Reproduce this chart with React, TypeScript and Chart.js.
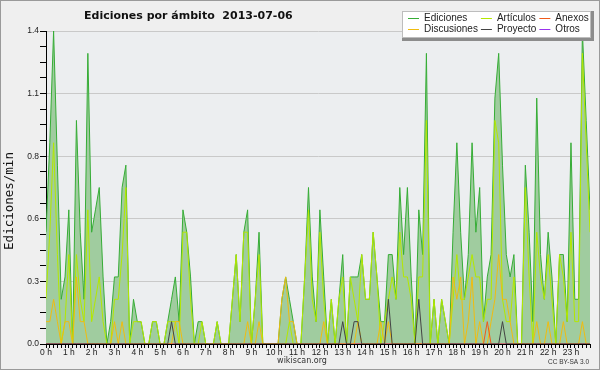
import React, { useEffect, useRef } from 'react';
import { Chart, registerables } from 'chart.js';

Chart.register(...registerables);

const chartTitle = 'Ediciones por ámbito  2013-07-06';
const yAxisTitle = 'Ediciones/min';
const footerLeft = 'wikiscan.org';
const footerRight = 'CC BY-SA 3.0';

// 10-minute slots of the day (minutes since 00:00)
const slotMinutes: number[] = Array.from({ length: 144 }, (_, i) => i * 10);

const hourLabels = ['0 h', '1 h', '2 h', '3 h', '4 h', '5 h', '6 h', '7 h', '8 h', '9 h', '10 h', '11 h',
  '12 h', '13 h', '14 h', '15 h', '16 h', '17 h', '18 h', '19 h', '20 h', '21 h', '22 h', '23 h'];

const yTickValues = [0, 0.07, 0.14, 0.21, 0.28, 0.35, 0.42, 0.49, 0.56, 0.63, 0.7, 0.77, 0.84, 0.91, 0.98, 1.05, 1.12, 1.19, 1.26, 1.33, 1.4];
const yTickLabels = ['0.0', '0.3', '0.6', '0.8', '1.1', '1.4'];

const ediciones = [
  0.5, 0.9, 1.4, 0.8, 0.2, 0.3, 0.6, 0, 1.0, 0.5,
  0.2, 1.3, 0.5, 0.6, 0.7, 0.3, 0, 0.1, 0.3, 0.3,
  0.7, 0.8, 0, 0.2, 0.1, 0.1, 0, 0, 0.1, 0.1,
  0, 0, 0.1, 0.2, 0.3, 0.1, 0.6, 0.5, 0.3, 0,
  0.1, 0.1, 0, 0, 0, 0.1, 0, 0, 0, 0.2,
  0.4, 0.1, 0.5, 0.6, 0, 0.2, 0.5, 0, 0, 0,
  0, 0, 0.2, 0.3, 0.2, 0.1, 0, 0, 0.3, 0.7,
  0.3, 0.1, 0.6, 0.3, 0, 0.2, 0, 0.2, 0.4, 0,
  0.3, 0.3, 0.3, 0.4, 0.2, 0.2, 0.5, 0.3, 0.1, 0.1,
  0.4, 0.4, 0.2, 0.7, 0.4, 0.7, 0.3, 0, 0.6, 0.4,
  1.3, 0, 0.2, 0, 0.2, 0.1, 0, 0.5, 0.9, 0.5,
  0.2, 0.4, 0.9, 0.5, 0.7, 0.1, 0.3, 0.4, 1.1, 1.3,
  0.8, 0.4, 0.3, 0.4, 0, 0, 0.8, 0.5, 0.1, 1.1,
  0.4, 0.2, 0.5, 0.3, 0, 0.4, 0.4, 0.1, 0.9, 0.2,
  0.2, 1.4, 1.0, 0.6,
];

const articulos = [
  0.2, 0.5, 0.9, 0.4, 0, 0.1, 0.4, 0, 0.4, 0.2,
  0.1, 0.6, 0.1, 0.2, 0.3, 0.1, 0, 0, 0.2, 0.2,
  0.4, 0.7, 0, 0.1, 0.1, 0.1, 0, 0, 0.1, 0.1,
  0, 0, 0.1, 0.1, 0.1, 0, 0.5, 0.5, 0.2, 0,
  0, 0.1, 0, 0, 0, 0.1, 0, 0, 0, 0.2,
  0.4, 0.1, 0.5, 0.5, 0, 0.2, 0.4, 0, 0, 0,
  0, 0, 0, 0, 0.1, 0, 0, 0, 0.3, 0.6,
  0.2, 0.1, 0.5, 0.2, 0, 0.2, 0, 0.2, 0.3, 0,
  0.3, 0.2, 0.1, 0.4, 0.2, 0.2, 0.5, 0.3, 0, 0.1,
  0.2, 0.3, 0.2, 0.5, 0.3, 0.3, 0.2, 0, 0.3, 0.3,
  1.0, 0, 0.2, 0, 0.2, 0.1, 0, 0.2, 0.4, 0.2,
  0.2, 0.3, 0.4, 0.3, 0.3, 0.1, 0.2, 0.2, 1.0, 0.9,
  0.2, 0.1, 0.1, 0.3, 0, 0, 0.7, 0.3, 0, 0.5,
  0.3, 0.2, 0.4, 0.2, 0, 0.4, 0.3, 0.1, 0.5, 0.1,
  0.1, 1.3, 0.9, 0.5,
];

const discusiones = [
  0.1, 0.1, 0.2, 0.1, 0, 0.1, 0.1, 0, 0.3, 0.1,
  0.1, 0, 0, 0, 0, 0, 0, 0, 0.1, 0,
  0.1, 0, 0, 0, 0, 0, 0, 0, 0, 0,
  0, 0, 0, 0, 0.1, 0.1, 0, 0, 0, 0,
  0, 0, 0, 0, 0, 0, 0, 0, 0, 0,
  0, 0, 0, 0.1, 0, 0, 0.1, 0, 0, 0,
  0, 0, 0.2, 0.3, 0.1, 0.1, 0, 0, 0, 0,
  0, 0, 0, 0.1, 0, 0, 0, 0, 0, 0,
  0, 0, 0.1, 0, 0, 0, 0, 0, 0.1, 0,
  0.1, 0, 0, 0, 0, 0, 0, 0, 0, 0,
  0, 0, 0, 0, 0, 0, 0, 0.3, 0.2, 0.3,
  0, 0.1, 0.3, 0, 0.1, 0, 0, 0.1, 0.2, 0.4,
  0.2, 0.2, 0.1, 0, 0, 0, 0, 0, 0, 0.1,
  0, 0, 0.1, 0, 0, 0, 0.1, 0, 0, 0,
  0, 0.1, 0, 0,
];

const proyecto = [
  0, 0, 0, 0, 0, 0, 0, 0, 0, 0,
  0, 0, 0, 0, 0, 0, 0, 0, 0, 0,
  0, 0, 0, 0, 0, 0, 0, 0, 0, 0,
  0, 0, 0, 0.1, 0, 0, 0, 0, 0, 0,
  0, 0, 0, 0, 0, 0, 0, 0, 0, 0,
  0, 0, 0, 0, 0, 0, 0, 0, 0, 0,
  0, 0, 0, 0, 0, 0, 0, 0, 0, 0,
  0, 0, 0, 0, 0, 0, 0, 0, 0.1, 0,
  0, 0.1, 0.1, 0, 0, 0, 0, 0, 0, 0,
  0.2, 0, 0, 0, 0, 0, 0, 0, 0.2, 0,
  0, 0, 0, 0, 0, 0, 0, 0, 0, 0,
  0, 0, 0, 0, 0, 0, 0, 0, 0, 0,
  0.1, 0, 0, 0, 0, 0, 0, 0, 0, 0,
  0, 0, 0, 0, 0, 0, 0, 0, 0, 0,
  0, 0, 0, 0,
];

const anexos = [
  0, 0, 0, 0, 0, 0, 0, 0, 0, 0,
  0, 0, 0, 0, 0, 0, 0, 0, 0, 0,
  0, 0, 0, 0, 0, 0, 0, 0, 0, 0,
  0, 0, 0, 0, 0, 0, 0, 0, 0, 0,
  0, 0, 0, 0, 0, 0, 0, 0, 0, 0,
  0, 0, 0, 0, 0, 0, 0, 0, 0, 0,
  0, 0, 0, 0, 0, 0, 0, 0, 0, 0,
  0, 0, 0, 0, 0, 0, 0, 0, 0, 0,
  0, 0, 0, 0, 0, 0, 0, 0, 0, 0,
  0, 0, 0, 0, 0, 0, 0, 0, 0, 0,
  0, 0, 0, 0, 0, 0, 0, 0, 0, 0,
  0, 0, 0, 0, 0, 0, 0.1, 0, 0, 0,
  0, 0, 0, 0, 0, 0, 0, 0, 0, 0,
  0, 0, 0, 0, 0, 0, 0, 0, 0, 0,
  0, 0, 0, 0,
];

const otros = [
  0, 0, 0, 0, 0, 0, 0, 0, 0, 0,
  0, 0, 0, 0, 0, 0, 0, 0, 0, 0,
  0, 0, 0, 0, 0, 0, 0, 0, 0, 0,
  0, 0, 0, 0, 0, 0, 0, 0, 0, 0,
  0, 0, 0, 0, 0, 0, 0, 0, 0, 0,
  0, 0, 0, 0, 0, 0, 0, 0, 0, 0,
  0, 0, 0, 0, 0, 0, 0, 0, 0, 0,
  0, 0, 0, 0, 0, 0, 0, 0, 0, 0,
  0, 0, 0, 0, 0, 0, 0, 0, 0, 0,
  0, 0, 0, 0, 0, 0, 0, 0, 0, 0,
  0, 0, 0, 0, 0, 0, 0, 0, 0, 0,
  0, 0, 0, 0, 0, 0, 0, 0, 0, 0,
  0, 0, 0, 0, 0, 0, 0, 0, 0, 0,
  0, 0, 0, 0, 0, 0, 0, 0, 0, 0,
  0, 0, 0, 0,
];

const toPoints = (vals: number[]) => vals.map((v, i) => ({ x: slotMinutes[i], y: v }));

const tickFont = "'Liberation Sans Narrow', 'Liberation Sans', sans-serif";

const decorPlugin = {
  id: 'decor',
  beforeDraw(chart: any) {
    const { ctx, width, height, chartArea } = chart;
    ctx.save();
    ctx.fillStyle = '#efefef';
    ctx.fillRect(0, 0, width, height);
    ctx.fillStyle = '#eceef0';
    ctx.fillRect(chartArea.left, chartArea.top, chartArea.right - chartArea.left, chartArea.bottom - chartArea.top);
    ctx.restore();
  },
  afterDraw(chart: any) {
    const { ctx, width, height } = chart;
    ctx.save();
    // Title
    ctx.fillStyle = '#111';
    ctx.font = "bold 11px 'DejaVu Sans', sans-serif";
    ctx.textAlign = 'left';
    ctx.textBaseline = 'alphabetic';
    ctx.fillText(chartTitle, 84, 18.5);

    // Y axis title
    ctx.save();
    ctx.translate(10, 201);
    ctx.rotate(-Math.PI / 2);
    ctx.textAlign = 'center';
    ctx.textBaseline = 'middle';
    ctx.font = "12.5px 'DejaVu Sans Mono', monospace";
    ctx.fillStyle = '#111';
    ctx.fillText(yAxisTitle, 0, 0);
    ctx.restore();

    // Footers
    ctx.fillStyle = '#333';
    ctx.font = "8px 'DejaVu Sans', sans-serif";
    ctx.textAlign = 'center';
    ctx.textBaseline = 'middle';
    ctx.fillText(footerLeft, 302, 361);
    ctx.font = "6.5px 'Liberation Sans', sans-serif";
    ctx.textAlign = 'right';
    ctx.fillText(footerRight, 589, 362);

    // Legend (column-major, two rows)
    const datasets = chart.data.datasets;
    ctx.font = "10px 'Liberation Sans', sans-serif";
    const boxX = 402;
    const boxY = 11;
    const rowsY = [18.5, 29.5];
    const nCols = Math.ceil(datasets.length / 2);
    const cols: { sx: number; tx: number }[] = [];
    let x = 408;
    let lastEnd = x;
    for (let c = 0; c < nCols; c++) {
      const labels = [datasets[c * 2], datasets[c * 2 + 1]].filter(Boolean).map((d: any) => d.label);
      const maxW = Math.max(...labels.map((l: string) => ctx.measureText(l).width));
      cols.push({ sx: x, tx: x + 16 });
      lastEnd = x + 16 + maxW;
      x = x + 16 + maxW + 3;
    }
    const boxR = Math.round(lastEnd + 2);
    ctx.fillStyle = '#8c8c8c';
    ctx.fillRect(boxX, boxY, boxR + 3 - boxX, 30);
    ctx.fillStyle = '#ffffff';
    ctx.fillRect(boxX, boxY, boxR - boxX, 27);
    ctx.strokeStyle = '#bdbdbd';
    ctx.lineWidth = 1;
    ctx.strokeRect(boxX + 0.5, boxY + 0.5, boxR - boxX - 1, 26);
    ctx.textAlign = 'left';
    ctx.textBaseline = 'middle';
    datasets.forEach((d: any, k: number) => {
      const c = Math.floor(k / 2);
      const r = k % 2;
      const y = rowsY[r];
      ctx.strokeStyle = d.borderColor;
      ctx.beginPath();
      ctx.moveTo(cols[c].sx, Math.floor(y) + 0.5);
      ctx.lineTo(cols[c].sx + 11, Math.floor(y) + 0.5);
      ctx.stroke();
      ctx.fillStyle = '#222';
      ctx.fillText(d.label, cols[c].tx, y);
    });

    // Outer border
    ctx.strokeStyle = '#9a9a9a';
    ctx.strokeRect(0.5, 0.5, width - 1, height - 1);
    ctx.restore();
  },
};

export default function App() {
  const canvasRef = useRef<HTMLCanvasElement | null>(null);

  useEffect(() => {
    if (!canvasRef.current) return;
    const chart = new Chart(canvasRef.current, {
      type: 'line',
      data: {
        datasets: [
          { label: 'Ediciones', data: toPoints(ediciones), borderColor: '#36ad36', backgroundColor: '#a0cc9f', fill: 'origin', order: 10 },
          { label: 'Discusiones', data: toPoints(discusiones), borderColor: '#f0bc10', fill: false, order: 1 },
          { label: 'Artículos', data: toPoints(articulos), borderColor: '#b4e800', fill: false, order: 2 },
          { label: 'Proyecto', data: toPoints(proyecto), borderColor: '#444444', fill: false, order: 0 },
          { label: 'Anexos', data: toPoints(anexos), borderColor: '#f05a1a', fill: false, order: 0 },
          { label: 'Otros', data: toPoints(otros), borderColor: '#9933ee', fill: false, order: 3 },
        ],
      },
      options: {
        responsive: false,
        maintainAspectRatio: false,
        animation: false,
        layout: { padding: { top: 31, right: 10, bottom: 0, left: 0 } },
        elements: {
          point: { radius: 0, hoverRadius: 0 },
          line: { tension: 0, borderWidth: 1 },
        },
        plugins: {
          legend: { display: false },
          title: { display: false },
          tooltip: { enabled: false },
        },
        scales: {
          x: {
            type: 'linear',
            min: 0,
            max: 1430,
            z: 1,
            afterBuildTicks: (scale: any) => {
              scale.ticks = slotMinutes.map((v) => ({ value: v }));
            },
            afterFit: (scale: any) => {
              scale.height = 26;
            },
            ticks: {
              autoSkip: false,
              maxRotation: 0,
              minRotation: 0,
              padding: 0,
              color: '#222',
              font: { family: tickFont, size: 8.5 },
              callback: (value: any) => (Number(value) % 60 === 0 ? hourLabels[Number(value) / 60] : ''),
            },
            grid: { drawOnChartArea: false, tickLength: 4, tickColor: '#000', tickWidth: 1 },
            border: { color: '#000', width: 1 },
          },
          y: {
            type: 'linear',
            min: 0,
            max: 1.4,
            z: 1,
            afterBuildTicks: (scale: any) => {
              scale.ticks = yTickValues.map((v) => ({ value: v }));
            },
            afterFit: (scale: any) => {
              scale.width = 46;
            },
            ticks: {
              padding: 1,
              color: '#222',
              font: { family: tickFont, size: 8.5 },
              callback: (_v: any, index: number) => (index % 4 === 0 ? yTickLabels[index / 4] : ''),
            },
            grid: {
              color: (c: any) => (c.index % 4 === 0 && c.index > 0 ? '#c9c9c9' : 'rgba(0,0,0,0)'),
              tickColor: '#000',
              tickLength: 6,
              tickWidth: 1,
            },
            border: { color: '#000', width: 1 },
          },
        },
      } as any,
      plugins: [decorPlugin],
    });
    return () => chart.destroy();
  }, []);

  return (
    <div style={{ position: 'absolute', left: 0, top: 0, width: 600, height: 370 }}>
      <canvas ref={canvasRef} width={600} height={370} style={{ display: 'block' }} />
    </div>
  );
}
